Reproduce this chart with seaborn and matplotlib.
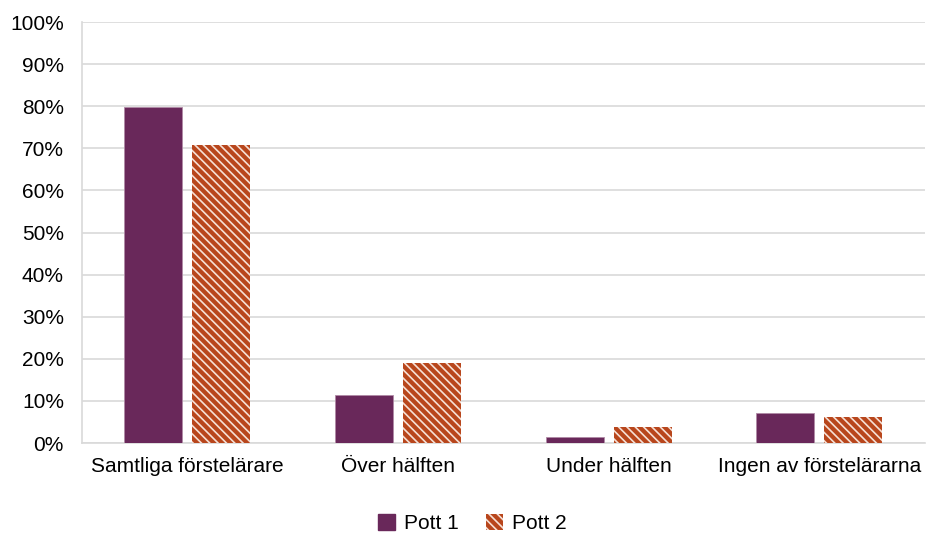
import pandas as pd
import matplotlib.pyplot as plt
import seaborn as sns
from matplotlib.patches import Patch

# data
categories = ["Samtliga förstelärare", "Över hälften", "Under hälften", "Ingen av förstelärarna"]
pott1 = [79.7, 11.5, 1.4, 7.2]
pott2 = [70.8, 19.1, 3.9, 6.1]
series = ["Pott 1", "Pott 2"]
yticks = list(range(0, 101, 10))

df = pd.DataFrame({
    "kategori": categories * 2,
    "andel": pott1 + pott2,
    "pott": [series[0]] * len(pott1) + [series[1]] * len(pott2),
})

purple = "#69285A"
orange = "#B8461C"
hatch = "\\" * 4

sns.set_style("white")
plt.rcParams['font.family'] = ['Liberation Sans', 'DejaVu Sans']
plt.rcParams['hatch.linewidth'] = 1.2
plt.rcParams['text.color'] = 'black'
plt.rcParams['xtick.color'] = 'black'
plt.rcParams['ytick.color'] = 'black'

fig = plt.figure(figsize=(9.26, 5.37), dpi=100)
ax = fig.add_axes([0.0886, 0.175, 0.9100, 0.784])

sns.barplot(data=df, x="kategori", y="andel", hue="pott",
            palette=[purple, orange], saturation=1, width=0.646, gap=0.147,
            ax=ax, legend=False, zorder=3)

# purple bars: thin light edge; orange bars: white diagonal hatch
for p in ax.containers[0]:
    p.set_edgecolor("#B08AA6")
    p.set_linewidth(0.6)
for p in ax.containers[1]:
    p.set_edgecolor("#F6E0D6")
    p.set_hatch(hatch)
    p.set_linewidth(0)

ax.set_ylim(0, 100)
ax.set_xlim(-0.5, 3.5)
ax.set_yticks(yticks)
ax.set_yticklabels([f"{t}%" for t in yticks])
ax.set_xlabel("")
ax.set_ylabel("")
ax.yaxis.grid(True, color="#D9D9D9", linewidth=1.2, zorder=0)
ax.set_axisbelow(True)
for s in ["top", "right"]:
    ax.spines[s].set_visible(False)
for s in ["left", "bottom"]:
    ax.spines[s].set_color("#D9D9D9")
    ax.spines[s].set_linewidth(1.2)
ax.tick_params(axis="y", length=3, color="#D9D9D9", labelcolor="black", width=1.2, labelsize=15, pad=10)
ax.tick_params(axis="x", length=0, labelcolor="black", labelsize=15, pad=10)

handles = [
    Patch(facecolor=purple, edgecolor=purple, label=series[0]),
    Patch(facecolor=orange, edgecolor="#F6E0D6", hatch=hatch, linewidth=0, label=series[1]),
]
fig.legend(handles=handles, loc="lower center", bbox_to_anchor=(0.51, -0.028), ncol=2,
           frameon=False, fontsize=15, handlelength=0.8, handleheight=0.8,
           handletextpad=0.45, columnspacing=1.3)

plt.savefig("out.png", dpi=100)
